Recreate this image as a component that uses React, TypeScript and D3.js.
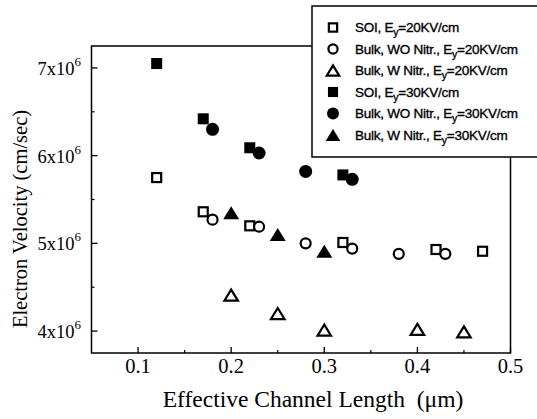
import React from "react";
import * as d3 from "d3";

const soi20X = [0.12, 0.17, 0.22, 0.32, 0.42, 0.47];
const soi20Y = [5.75, 5.36, 5.2, 5.01, 4.93, 4.91];
const bulkWO20X = [0.18, 0.23, 0.28, 0.33, 0.38, 0.43];
const bulkWO20Y = [5.27, 5.19, 5.0, 4.94, 4.88, 4.88];
const bulkW20X = [0.2, 0.25, 0.3, 0.4, 0.45];
const bulkW20Y = [4.41, 4.2, 4.01, 4.02, 3.99];
const soi30X = [0.12, 0.17, 0.22, 0.32];
const soi30Y = [7.05, 6.42, 6.09, 5.78];
const bulkWO30X = [0.18, 0.23, 0.28, 0.33];
const bulkWO30Y = [6.3, 6.03, 5.82, 5.73];
const bulkW30X = [0.2, 0.25, 0.3];
const bulkW30Y = [5.35, 5.1, 4.91];

const xTicks = [0.1, 0.2, 0.3, 0.4, 0.5];
const xMinorTicks = [0.15, 0.25, 0.35, 0.45];
const yTicks = [4, 5, 6, 7];
const yMinorTicks = [4.5, 5.5, 6.5];

const legendPrefix = ["SOI, E", "Bulk, WO Nitr., E", "Bulk, W Nitr., E", "SOI, E", "Bulk, WO Nitr., E", "Bulk, W Nitr., E"];
const legendSuffix = ["=20KV/cm", "=20KV/cm", "=20KV/cm", "=30KV/cm", "=30KV/cm", "=30KV/cm"];

type Shape = "square" | "circle" | "triangle";
const series: { xs: number[]; ys: number[]; shape: Shape; filled: boolean }[] = [
  { xs: soi20X, ys: soi20Y, shape: "square", filled: false },
  { xs: bulkWO20X, ys: bulkWO20Y, shape: "circle", filled: false },
  { xs: bulkW20X, ys: bulkW20Y, shape: "triangle", filled: false },
  { xs: soi30X, ys: soi30Y, shape: "square", filled: true },
  { xs: bulkWO30X, ys: bulkWO30Y, shape: "circle", filled: true },
  { xs: bulkW30X, ys: bulkW30Y, shape: "triangle", filled: true },
];

const serif = "'Liberation Serif', 'Times New Roman', Times, serif";
const sans = "'Liberation Sans', Arial, Helvetica, sans-serif";

function Marker({ cx, cy, shape, filled, scale = 1 }: { cx: number; cy: number; shape: Shape; filled: boolean; scale?: number }) {
  const fill = filled ? "#000" : "#fff";
  const sw = filled ? 0 : 2.2;
  if (shape === "square") {
    const s = (filled ? 11 : 9) * scale;
    return <rect x={cx - s / 2} y={cy - s / 2} width={s} height={s} fill={fill} stroke="#000" strokeWidth={sw} />;
  }
  if (shape === "circle") {
    const r = (filled ? 6.5 : 5) * scale;
    return <circle cx={cx} cy={cy} r={r} fill={fill} stroke="#000" strokeWidth={sw} />;
  }
  const w = (filled ? 16 : 13.5) * scale;
  const h = (filled ? 13 : 11) * scale;
  const pts = [
    [cx, cy - h / 2],
    [cx + w / 2, cy + h / 2],
    [cx - w / 2, cy + h / 2],
  ];
  return <path d={d3.line()(pts as [number, number][]) + "Z"} fill={fill} stroke="#000" strokeWidth={sw} strokeLinejoin="miter" />;
}

export default function App() {
  const x = d3.scaleLinear().domain([0.05, 0.5]).range([91.5, 510.5]);
  const y = d3.scaleLinear().domain([3.75, 7.25]).range([353, 46]);
  const [x0, x1] = x.range();
  const [y0, y1] = y.range();

  const legX = 312;
  const legY = 6;
  const legRowY = (i: number) => 27.5 + i * 21.5;

  return (
    <svg width={537} height={419} style={{ position: "absolute", left: 0, top: 0, background: "#fff" }}>
      <rect x={0} y={0} width={537} height={419} fill="#fff" />
      {/* frame */}
      <rect x={x0} y={y1} width={x1 - x0} height={y0 - y1} fill="none" stroke="#000" strokeWidth={1.5} />
      {/* x ticks */}
      {xTicks.map((t) => (
        <g key={"xt" + t}>
          <line x1={x(t)} x2={x(t)} y1={y0} y2={y0 - 6} stroke="#000" strokeWidth={1.3} />
          <text x={x(t)} y={373} textAnchor="middle" fontFamily={serif} fontSize={20.5}>
            {d3.format(".1f")(t)}
          </text>
        </g>
      ))}
      {xMinorTicks.map((t) => (
        <line key={"xm" + t} x1={x(t)} x2={x(t)} y1={y0} y2={y0 - 3} stroke="#000" strokeWidth={1.2} />
      ))}
      {/* y ticks */}
      {yTicks.map((t) => (
        <g key={"yt" + t}>
          <line x1={x0} x2={x0 + 6} y1={y(t)} y2={y(t)} stroke="#000" strokeWidth={1.3} />
          <text x={81} y={y(t) + 7} textAnchor="end" fontFamily={serif} fontSize={18.5}>
            {t}x10
            <tspan fontSize={13} dy={-9}>6</tspan>
          </text>
        </g>
      ))}
      {yMinorTicks.map((t) => (
        <line key={"ym" + t} x1={x0} x2={x0 + 3} y1={y(t)} y2={y(t)} stroke="#000" strokeWidth={1.2} />
      ))}
      {/* axis titles */}
      <text x={313} y={407} textAnchor="middle" fontFamily={serif} fontSize={23.5} style={{ whiteSpace: "pre" }}>
        {"Effective Channel Length  (\u03bcm)"}
      </text>
      <text transform={`translate(27,219) rotate(-90)`} textAnchor="middle" fontFamily={serif} fontSize={20.5}>
        Electron Velocity (cm/sec)
      </text>
      {/* data */}
      {series.map((s, si) =>
        s.xs.map((xv, i) => <Marker key={si + "-" + i} cx={x(xv)} cy={y(s.ys[i])} shape={s.shape} filled={s.filled} />)
      )}
      {/* legend */}
      <rect x={legX} y={legY} width={240} height={157 - legY} fill="#fff" stroke="#000" strokeWidth={1.5} />
      {series.map((s, i) => (
        <g key={"leg" + i}>
          <Marker cx={333} cy={legRowY(i)} shape={s.shape} filled={s.filled} scale={0.92} />
          <text x={355} y={legRowY(i) + 4.5} fontFamily={sans} fontSize={13.5} letterSpacing={-0.25} stroke="#000" strokeWidth={0.35}>
            {legendPrefix[i]}
            <tspan fontSize={10.5} dy={4}>y</tspan>
            <tspan dy={-4}>{legendSuffix[i]}</tspan>
          </text>
        </g>
      ))}
    </svg>
  );
}
